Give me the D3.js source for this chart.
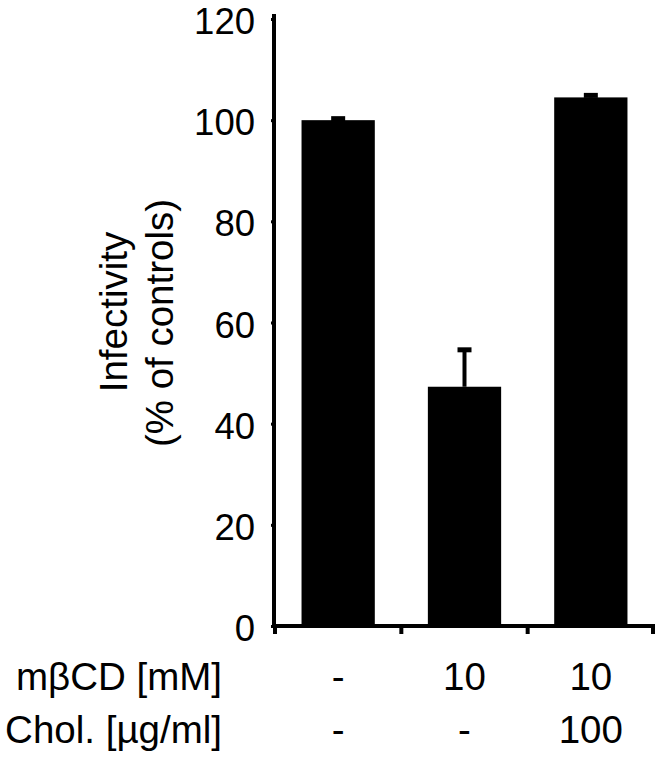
<!DOCTYPE html>
<html><head><meta charset="utf-8">
<script src="https://cdn.jsdelivr.net/npm/d3@7"></script>
<style>body{margin:0;background:#fff}svg{display:block}text{font-family:"Liberation Sans",Arial,sans-serif;fill:#000}</style>
</head><body><svg id="c" width="662" height="758"></svg>
<script>
const categories = ["ctrl", "mbcd", "mbcd_chol"];
const values = [100, 47.3, 104.5];
const errors = [0.3, 7.3, 0.4];
const mbcdLabels = ["-", "10", "10"];
const cholLabels = ["-", "-", "100"];
const yTicks = [0, 20, 40, 60, 80, 100, 120];

const svg = d3.select("#c");
const x = d3.scaleBand().domain(categories).range([275, 654]).paddingInner(0.42).paddingOuter(0.21);
const y = d3.scaleLinear().domain([0, 120]).range([626, 19]);
const cx = c => x(c) + x.bandwidth() / 2;

// bars
svg.selectAll("rect.bar").data(values).join("rect").attr("class","bar")
  .attr("x", (d,i) => x(categories[i])).attr("width", x.bandwidth())
  .attr("y", d => y(d)).attr("height", d => y(0) - y(d)).attr("fill", "#000");

// error bars
const eb = svg.selectAll("g.eb").data(values).join("g").attr("class","eb");
eb.append("line").attr("x1", (d,i)=>cx(categories[i])).attr("x2",(d,i)=>cx(categories[i]))
  .attr("y1", d=>y(d)).attr("y2",(d,i)=>y(d+errors[i])).attr("stroke","#000").attr("stroke-width",4);
eb.append("line").attr("x1", (d,i)=>cx(categories[i])-7).attr("x2",(d,i)=>cx(categories[i])+7)
  .attr("y1",(d,i)=>y(d+errors[i])).attr("y2",(d,i)=>y(d+errors[i])).attr("stroke","#000").attr("stroke-width",5);

// y axis
const ya = svg.append("g").attr("transform","translate(275,0)")
  .call(d3.axisLeft(y).tickValues(yTicks).tickSize(4).tickPadding(16));
ya.select(".domain").attr("stroke-width",4).attr("d",`M-3,${y(120)-3}H-1V${y(0)}`);
ya.selectAll(".tick line").attr("stroke-width",3);
ya.selectAll(".tick text").style("font-size","36.5px").attr("font-family",null).attr("dy","0.4em");

// x axis
const xa = svg.append("g").attr("transform",`translate(0,${y(0)})`);
xa.append("line").attr("x1",272).attr("x2",655).attr("stroke","#000").attr("stroke-width",4);
const edges = [275, ...categories.map(c => x(c) + x.bandwidth() + x.step()*x.paddingInner()/2)];
edges[3] = 653;
xa.selectAll("line.t").data(edges).join("line").attr("class","t").attr("x1",d=>d).attr("x2",d=>d).attr("y1",0).attr("y2",8)
  .attr("stroke","#000").attr("stroke-width",4);

// y label
svg.append("text").attr("transform","translate(127,312) rotate(-90)").attr("text-anchor","middle")
  .style("font-size","38.5px").text("Infectivity");
svg.append("text").attr("transform","translate(173,323) rotate(-90)").attr("text-anchor","middle")
  .style("font-size","38.5px").text("(% of controls)");

// row labels
const r1 = 690, r2 = 743;
svg.append("text").attr("x",222).attr("y",r1).attr("text-anchor","end").style("font-size","38.5px").text("mβCD [mM]");
svg.append("text").attr("x",222).attr("y",r2).attr("text-anchor","end").style("font-size","38.5px").text("Chol. [µg/ml]");
svg.selectAll("text.m").data(mbcdLabels).join("text").attr("class","m").attr("x",(d,i)=>cx(categories[i])).attr("y",r1)
  .attr("text-anchor","middle").style("font-size","38.5px").text(d=>d);
svg.selectAll("text.c").data(cholLabels).join("text").attr("class","c").attr("x",(d,i)=>cx(categories[i])).attr("y",r2)
  .attr("text-anchor","middle").style("font-size","38.5px").text(d=>d);
</script></body></html>
